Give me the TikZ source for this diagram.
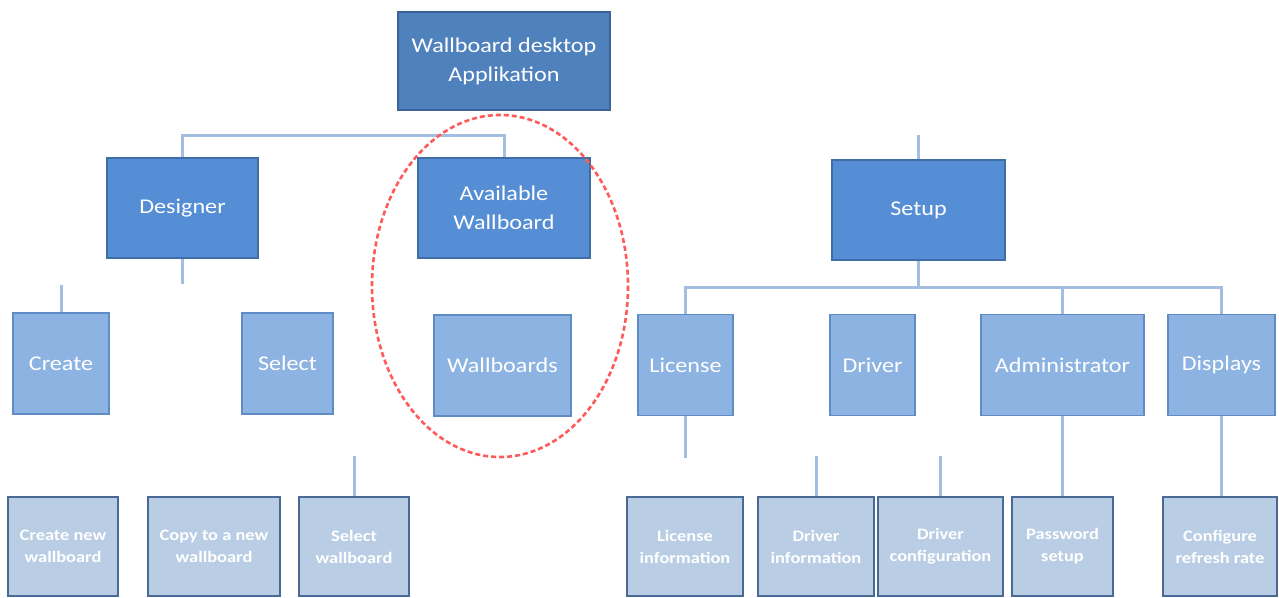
\documentclass[tikz,border=0pt]{standalone}
\usepackage{fontspec}
\setmainfont{Carlito}[FakeStretch=1.15]
\definecolor{topfill}{HTML}{4F81BD}
\definecolor{topdraw}{HTML}{3A6398}
\definecolor{midfill}{HTML}{558ED5}
\definecolor{middraw}{HTML}{3F6DA6}
\definecolor{lowfill}{HTML}{8DB3E2}
\definecolor{lowdraw}{HTML}{5F8BC6}
\definecolor{leaffill}{HTML}{B9CDE5}
\definecolor{leafdraw}{HTML}{4A6A96}
\definecolor{conn}{HTML}{A3BEE0}
\definecolor{mark}{HTML}{FF5A5A}
\tikzset{
  box/.style={rectangle, inner sep=0pt, align=center, text=white,
    font=\fontsize{21}{29}\selectfont, line width=1.6pt},
  lvlone/.style={box, fill=topfill, draw=topdraw},
  lvltwo/.style={box, fill=midfill, draw=middraw},
  lvlthree/.style={box, fill=lowfill, draw=lowdraw},
  leaf/.style={box, fill=leaffill, draw=leafdraw, line width=2pt,
    font=\fontsize{16}{22}\selectfont\bfseries},
  link/.style={draw=conn, line width=3pt},
  circled/.style={draw=mark, line width=2.6pt, dash pattern=on 5pt off 3pt}
}
\begin{document}
\begin{tikzpicture}[x=1pt,y=-1pt]
\useasboundingbox (0,0) rectangle (1279,597);
% level 1
\node[lvlone, minimum width=212, minimum height=98] (app) at (504,61) {Wallboard desktop\\Applikation};
% level 2
\node[lvltwo, minimum width=151, minimum height=100] (designer) at (182.5,208) {Designer};
\node[lvltwo, minimum width=172, minimum height=100] (avail) at (504,208) {Available\\Wallboard};
\node[lvltwo, minimum width=173, minimum height=100] (setup) at (918.5,210) {Setup};
% level 3
\node[lvlthree, minimum width=96, minimum height=101] (create) at (61,363.5) {Create};
\node[lvlthree, minimum width=91, minimum height=101] (select) at (287.5,363.5) {Select};
\node[lvlthree, minimum width=137, minimum height=101] (wallboards) at (502.5,365.5) {Wallboards};
\node[lvlthree, minimum width=95, minimum height=101] (license) at (685.5,365) {License};
\node[lvlthree, minimum width=85, minimum height=101] (driver) at (872.5,365) {Driver};
\node[lvlthree, minimum width=163, minimum height=101] (admin) at (1062.5,365) {Administrator};
\node[lvlthree, minimum width=107, minimum height=101] (displays) at (1221.5,365) {Displays};
% leaves
\node[leaf, minimum width=110, minimum height=99] (createnew) at (63,546.5) {Create new\\wallboard};
\node[leaf, minimum width=132, minimum height=99] (copynew) at (214,546.5) {Copy to a new\\wallboard};
\node[leaf, minimum width=110, minimum height=99] (selectwb) at (354,546.5) {Select\\wallboard};
\node[leaf, minimum width=116, minimum height=99] (licinfo) at (685,546.5) {License\\information};
\node[leaf, minimum width=116, minimum height=99] (drvinfo) at (816,546.5) {Driver\\information};
\node[leaf, minimum width=125, minimum height=99] (drvconf) at (940.5,546.5) {Driver\\configuration};
\node[leaf, minimum width=101, minimum height=99] (pwd) at (1062.5,546.5) {Password\\setup};
\node[leaf, minimum width=114, minimum height=99] (refresh) at (1220,546.5) {Configure\\refresh rate};
% helper coordinates
\coordinate (busA) at (504,135);
\coordinate (busB) at (918.5,287);
\coordinate (setupstub) at (918.5,135);
\coordinate (designerstub) at (182.5,284);
\coordinate (createstub) at (61,285);
\coordinate (licstub) at (685.5,458);
\coordinate (drvinfostub) at (816,456);
\coordinate (drvconfstub) at (940.5,456);
\coordinate (selwbstub) at (354,456);
% connectors
\draw[link] (designer.north) |- (busA) -- (avail.north);
\draw[link] (setup.north) -- (setupstub);
\draw[link] (designer.south) -- (designerstub);
\draw[link] (setup.south) -- (busB);
\draw[link] (license.north) -- (license.north |- busB) -- (displays.north |- busB) -- (displays.north);
\draw[link] (admin.north) -- (admin.north |- busB);
\draw[link] (create.north) -- (createstub);
\draw[link] (license.south) -- (licstub);
\draw[link] (drvinfo.north) -- (drvinfostub);
\draw[link] (drvconf.north) -- (drvconfstub);
\draw[link] (selectwb.north) -- (selwbstub);
\draw[link] (admin.south) -- (pwd.north);
\draw[link] (displays.south) -- (displays.south |- refresh.north);
% highlight
\draw[circled] (500,286) ellipse [x radius=128, y radius=171];
\end{tikzpicture}
\end{document}
